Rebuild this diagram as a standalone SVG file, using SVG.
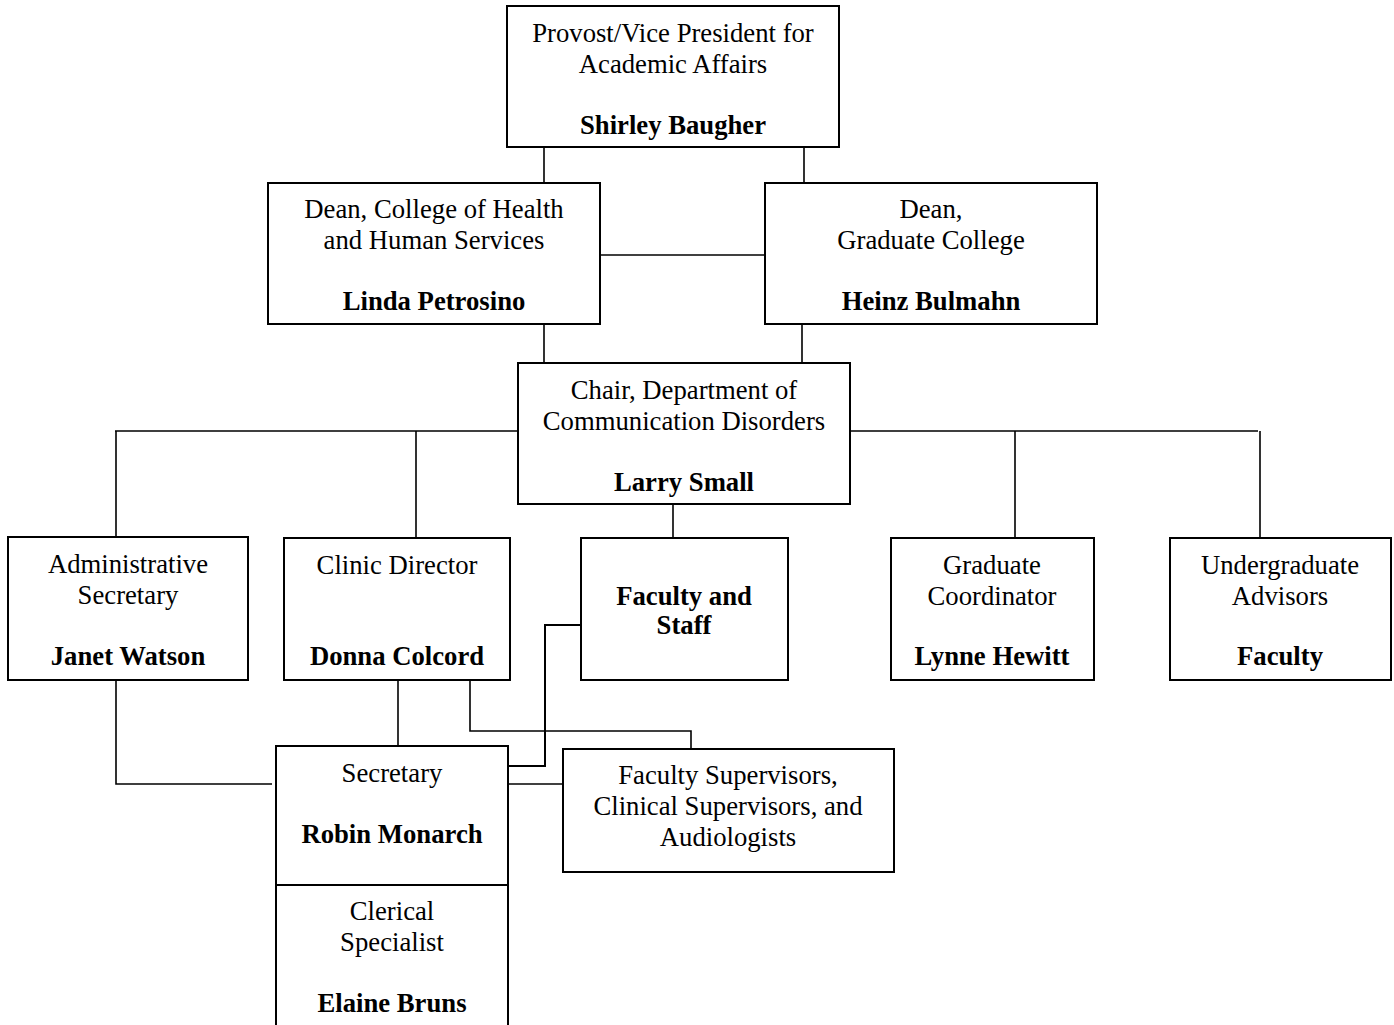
<svg xmlns="http://www.w3.org/2000/svg" width="1394" height="1025" viewBox="0 0 1394 1025">
<style>
.box{fill:#fff;stroke:#000;stroke-width:2}
.t{font-family:"Liberation Serif","Times New Roman",serif;font-size:26.7px;text-anchor:middle;fill:#000}
.b{font-weight:bold}
.c{fill:none;stroke:#000;stroke-width:1.6}
</style>
<rect width="1394" height="1025" fill="#fff"/>
<g id="connectors">
<path class="c" d="M544 147V183M804 147V183"/>
<path class="c" d="M600 255H765"/>
<path class="c" d="M544 324V363M802 324V363"/>
<path class="c" d="M115 431H518M850 431H1258"/>
<path class="c" d="M116 431V537M416 431V538M1015 431V538M1260 431V538"/>
<path class="c" d="M673 504V538"/>
<path class="c" d="M116 680V784H272"/>
<path class="c" d="M398 677V746"/>
<path class="c" d="M470 680V731H691V749"/>
<path class="c" d="M581 625H545V766H508" style="stroke-width:2"/>
<path class="c" d="M508 784H563"/>
</g>
<g id="provost">
<rect class="box" x="507" y="6" width="332" height="141"/>
<text class="t" x="673" y="42">Provost/Vice President for</text>
<text class="t" x="673" y="73">Academic Affairs</text>
<text class="t b" x="673" y="134">Shirley Baugher</text>
</g>
<g id="dean-hhs">
<rect class="box" x="268" y="183" width="332" height="141"/>
<text class="t" x="434" y="218">Dean, College of Health</text>
<text class="t" x="434" y="249">and Human Services</text>
<text class="t b" x="434" y="310">Linda Petrosino</text>
</g>
<g id="dean-grad">
<rect class="box" x="765" y="183" width="332" height="141"/>
<text class="t" x="931" y="218">Dean,</text>
<text class="t" x="931" y="249">Graduate College</text>
<text class="t b" x="931" y="310">Heinz Bulmahn</text>
</g>
<g id="chair">
<rect class="box" x="518" y="363" width="332" height="141"/>
<text class="t" x="684" y="399">Chair, Department of</text>
<text class="t" x="684" y="430">Communication Disorders</text>
<text class="t b" x="684" y="491">Larry Small</text>
</g>
<g id="admin-secretary">
<rect class="box" x="8" y="537" width="240" height="143"/>
<text class="t" x="128" y="573">Administrative</text>
<text class="t" x="128" y="604">Secretary</text>
<text class="t b" x="128" y="665">Janet Watson</text>
</g>
<g id="clinic-director">
<rect class="box" x="284" y="538" width="226" height="142"/>
<text class="t" x="397" y="574">Clinic Director</text>
<text class="t b" x="397" y="665">Donna Colcord</text>
</g>
<g id="faculty-staff">
<rect class="box" x="581" y="538" width="207" height="142"/>
<text class="t b" x="684" y="605">Faculty and</text>
<text class="t b" x="684" y="634">Staff</text>
</g>
<g id="graduate-coordinator">
<rect class="box" x="891" y="538" width="203" height="142"/>
<text class="t" x="992" y="574">Graduate</text>
<text class="t" x="992" y="605">Coordinator</text>
<text class="t b" x="992" y="665">Lynne Hewitt</text>
</g>
<g id="undergraduate-advisors">
<rect class="box" x="1170" y="538" width="221" height="142"/>
<text class="t" x="1280" y="574">Undergraduate</text>
<text class="t" x="1280" y="605">Advisors</text>
<text class="t b" x="1280" y="665">Faculty</text>
</g>
<g id="secretary">
<rect class="box" x="276" y="746" width="232" height="139"/>
<text class="t" x="392" y="782">Secretary</text>
<text class="t b" x="392" y="843">Robin Monarch</text>
</g>
<g id="clerical-specialist">
<rect class="box" x="276" y="885" width="232" height="150"/>
<text class="t" x="392" y="920">Clerical</text>
<text class="t" x="392" y="951">Specialist</text>
<text class="t b" x="392" y="1012">Elaine Bruns</text>
</g>
<g id="faculty-supervisors">
<rect class="box" x="563" y="749" width="331" height="123"/>
<text class="t" x="728" y="784">Faculty Supervisors,</text>
<text class="t" x="728" y="815">Clinical Supervisors, and</text>
<text class="t" x="728" y="846">Audiologists</text>
</g>
</svg>
